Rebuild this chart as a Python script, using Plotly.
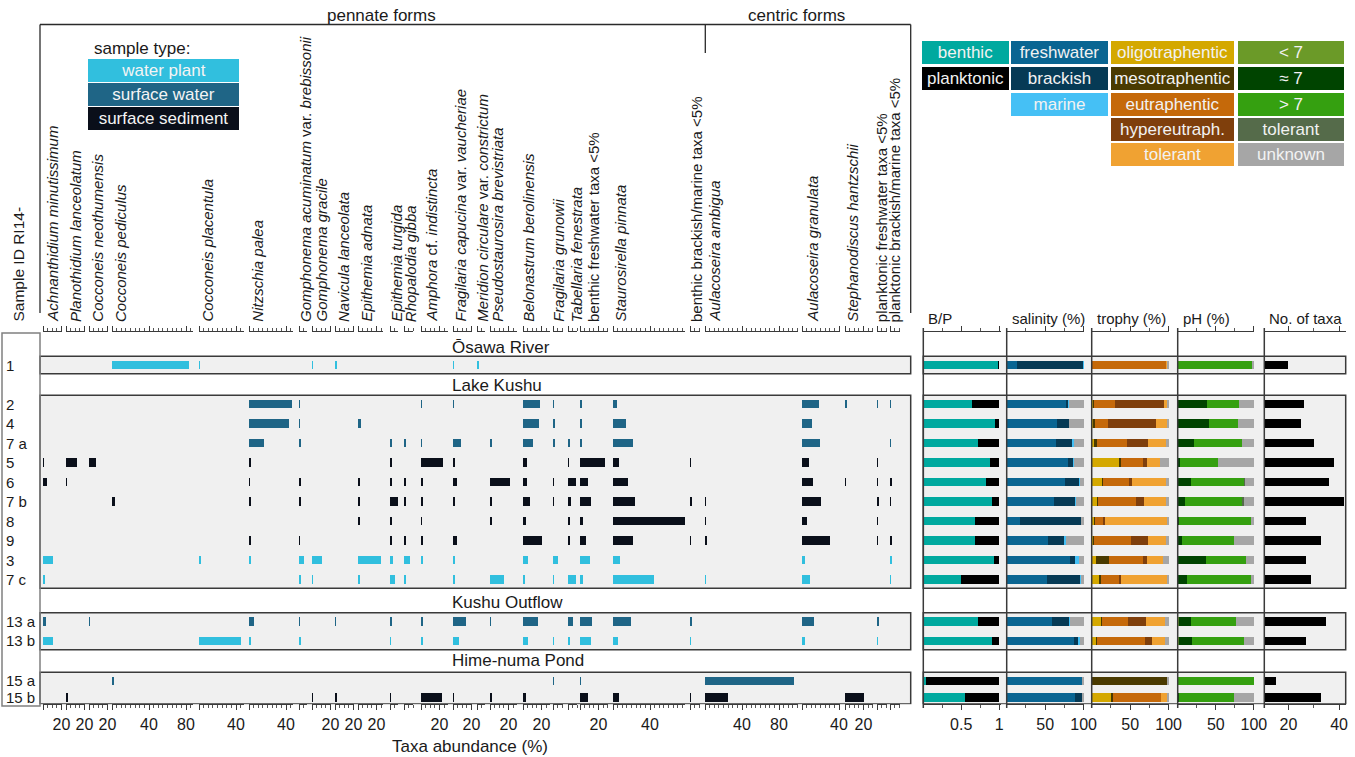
import plotly.graph_objects as go

W, H = 1355, 757
FONT = "Liberation Sans, Arial, sans-serif"

# ---------------- data ----------------
samples = ["1", "2", "4", "7 a", "5", "6", "7 b", "8", "9", "3", "7 c", "13 a", "13 b", "15 a", "15 b"]
sample_type = ["water plant", "surface water", "surface water", "surface water",
               "surface sediment", "surface sediment", "surface sediment", "surface sediment", "surface sediment",
               "water plant", "water plant", "surface water", "water plant", "surface water", "surface sediment"]
groups = ["Ōsawa River", "Lake Kushu", "Kushu Outflow", "Hime-numa Pond"]
group_first = ["1", "2", "13 a", "15 a"]
group_last = ["1", "7 c", "13 b", "15 b"]

taxa = [
    "<i>Achnanthidium minutissimum</i>",
    "<i>Planothidium lanceolatum</i>",
    "<i>Cocconeis neothumensis</i>",
    "<i>Cocconeis pediculus</i>",
    "<i>Cocconeis placentula</i>",
    "<i>Nitzschia palea</i>",
    "<i>Gomphonema acuminatum</i> var. <i>brebissonii</i>",
    "<i>Gomphonema gracile</i>",
    "<i>Navicula lanceolata</i>",
    "<i>Epithemia adnata</i>",
    "<i>Epithemia turgida</i>",
    "<i>Rhopalodia gibba</i>",
    "<i>Amphora</i> cf. <i>indistincta</i>",
    "<i>Fragilaria capucina</i> var. <i>vaucheriae</i>",
    "<i>Meridion circulare</i> var. <i>constrictum</i>",
    "<i>Pseudostaurosira brevistriata</i>",
    "<i>Belonastrum berolinensis</i>",
    "<i>Fragilaria grunowii</i>",
    "<i>Tabellaria fenestrata</i>",
    "benthic freshwater taxa &lt;5%",
    "<i>Staurosirella pinnata</i>",
    "benthic brackish/marine taxa &lt;5%",
    "<i>Aulacoseira ambigua</i>",
    "<i>Aulacoseira granulata</i>",
    "<i>Stephanodiscus hantzschii</i>",
    "planktonic freshwater taxa &lt;5%",
    "planktonic brackish/marine taxa &lt;5%",
]
# axis maximum (%) of each taxon column
taxa_axis_max = [20, 20, 20, 88, 49, 48, 9, 20, 20, 27, 9, 10, 29, 20, 9, 29, 29, 11, 10, 30, 78, 11, 101, 41, 30, 11, 11]
# labelled tick values of each taxon column
taxa_tick_labels = [[20], [20], [20], [40, 80], [40], [40], [], [20], [20], [20], [], [], [20], [20], [],
                    [20], [20], [], [], [20], [40, 80], [], [40, 80], [40], [20], [], []]

# abundances (%) per taxon, in sample order 1,2,4,7a,5,6,7b,8,9,3,7c,13a,13b,15a,15b
achnanthidium = [0, 0, 0, 0, 0.7, 4.7, 0, 0, 0, 11, 1.2, 3, 11, 0, 0]
planothidium = [0, 0, 0, 0, 11.5, 0.8, 0, 0, 0, 0, 0, 0, 0, 0, 1.2]
cocconeis_neo = [0, 0, 0, 0, 8, 0, 0, 0, 0, 0, 0, 0.8, 0, 0, 0]
cocconeis_ped = [83, 0, 0, 0, 0, 0, 3, 0, 0, 0, 0, 0, 0, 1.2, 0]
cocconeis_pla = [1, 0, 0, 0, 0, 0, 0, 0, 0, 2.3, 0, 0, 45, 0, 0]
nitzschia = [0, 46, 43.5, 16, 1.8, 1, 1.5, 0, 2.5, 1.5, 0, 5, 2.5, 0, 0]
gomph_acu = [0, 0.8, 0.8, 1.5, 0, 1.5, 1.5, 0, 1, 5, 1.3, 0.8, 1.5, 0, 0]
gomph_gra = [0.7, 0, 0, 0, 0, 0, 0, 0, 0, 11, 0.8, 0, 0, 0, 1]
navicula = [1.5, 0, 0, 0, 0, 0, 0, 0, 0, 0, 0, 0.8, 0, 0, 2]
epithemia_adn = [0, 0, 3, 0, 0, 2.5, 2.5, 1.5, 0, 25, 2, 0, 0, 0, 0]
epithemia_tur = [0, 0, 0, 2.5, 1.8, 2, 9, 2.2, 1.8, 2.8, 5.5, 1.8, 0.8, 0, 0.8]
rhopalodia = [0, 0, 0, 2, 0, 1.8, 2, 0, 1.5, 7, 2, 0, 0, 0, 0]
amphora = [0, 0.7, 0, 0.7, 24, 2.5, 1.8, 0.8, 1.8, 1.3, 0, 1.5, 1.3, 0, 22.5]
fragilaria_cap = [0.7, 1, 0, 8.5, 1.8, 4.3, 2, 0, 4.3, 2.5, 2, 14, 6, 0, 0.8]
meridion = [1.2, 0, 0, 0, 0, 0, 0, 0, 0, 0, 0, 0, 0, 0, 0]
pseudostaurosira = [0, 0, 0, 2, 0, 21.5, 2, 2, 0, 0, 15, 0.8, 0, 0, 2]
belonastrum = [0, 18.4, 17.5, 10.5, 4, 4, 8, 3, 20, 5, 1.5, 16.5, 5.7, 0, 3]
fragilaria_gru = [0, 1, 2, 2, 0, 0.8, 0.8, 0, 0, 5.5, 0.7, 0, 0.8, 0.8, 0]
tabellaria = [0, 0, 0, 1.5, 0.8, 8.5, 3.3, 1.3, 1.5, 0, 8.5, 5.5, 1.5, 0, 0]
benthic_fw_minor = [0, 2, 2, 2.5, 27, 8.7, 12, 2.8, 7, 10.5, 2.7, 12.5, 11.5, 0.8, 8.5]
staurosirella = [0, 4, 14, 21.5, 6.8, 16, 24, 78, 21.5, 7.6, 44, 19.5, 5, 0, 6.8]
benthic_bm_minor = [0, 0, 0, 0, 1, 0, 1.2, 0, 0.8, 0, 0, 1.2, 0.8, 0, 0.8]
aulacoseira_amb = [0, 0, 0, 0, 0, 0, 1, 0.8, 1.2, 0, 0.8, 0, 0, 96.5, 24.5]
aulacoseira_gra = [0, 18, 10.5, 19.5, 8, 12, 20, 5, 30.5, 3.5, 9, 12.5, 3.5, 0, 0]
stephanodiscus = [0, 2.5, 0, 0, 0, 0.8, 0, 0, 0, 0, 0, 0, 0, 0, 21]
plankt_fw_minor = [0, 0.8, 0, 0, 1, 0.8, 1.2, 0.8, 0.8, 0, 0, 1.2, 1, 0, 0]
plankt_bm_minor = [0, 0.8, 0, 0.8, 0, 1.2, 0.8, 0, 1.8, 1.2, 1, 0, 0, 0, 0]

abundance_columns = [achnanthidium, planothidium, cocconeis_neo, cocconeis_ped, cocconeis_pla, nitzschia,
                     gomph_acu, gomph_gra, navicula, epithemia_adn, epithemia_tur, rhopalodia, amphora,
                     fragilaria_cap, meridion, pseudostaurosira, belonastrum, fragilaria_gru, tabellaria,
                     benthic_fw_minor, staurosirella, benthic_bm_minor, aulacoseira_amb, aulacoseira_gra,
                     stephanodiscus, plankt_fw_minor, plankt_bm_minor]

# B/P ratio (benthic share)
benthic_share = [0.99, 0.64, 0.95, 0.72, 0.88, 0.82, 0.91, 0.68, 0.68, 0.93, 0.50, 0.72, 0.91, 0.03, 0.55]
planktonic_share = [round(1 - b, 2) for b in benthic_share]

# salinity (%)
sal_freshwater = [13, 76.7, 66, 64, 80, 76, 62, 17, 54, 82, 53, 59.5, 87.5, 98, 89]
sal_brackish = [86, 3, 15, 21.5, 7, 18.5, 26.7, 79, 21, 7, 43, 22, 4.7, 0, 9.5]
sal_marine = [1, 1.3, 0, 2, 0.5, 1, 1.3, 0, 2.6, 5.6, 1, 1, 2.6, 0, 0]
sal_unknown = [0, 19, 19, 12.5, 12.5, 4.5, 10, 4, 22.4, 5.4, 3, 17.5, 5.2, 2, 1.5]

# trophy (%)
tro_oligo = [0, 1.3, 1.3, 2.6, 35.3, 13.4, 6.9, 3, 2.2, 5.6, 9.5, 12, 5.6, 0, 24.6]
tro_meso = [0, 1.7, 3, 3.9, 3.4, 1.3, 1.3, 1.3, 1.3, 16.8, 2.2, 1.3, 0.9, 98.7, 3]
tro_eu = [96, 26.7, 17.2, 38.8, 28.4, 33.6, 50, 10.8, 47.4, 44.8, 24.6, 34.5, 63.4, 0, 62]
tro_hyper = [0, 63.8, 61.6, 27.6, 5.2, 3.9, 9.9, 2.2, 22.4, 5.2, 1.7, 22.4, 8.2, 0, 0]
tro_tolerant = [2.6, 5.2, 15.5, 23.2, 16, 43.9, 28, 81.4, 22.8, 20.3, 60, 24.6, 16.7, 0, 8.2]
tro_unknown = [1.4, 1.3, 1.4, 3.9, 11.7, 3.9, 3.9, 1.3, 3.9, 7.3, 2, 5.2, 5.2, 1.3, 2.2]

# pH (%)
ph_lt7 = [0, 0, 0, 0, 0, 0, 0, 0, 0, 0, 0, 2.2, 1.7, 0, 0]
ph_eq7 = [0, 38.7, 40.9, 21.3, 3, 17.4, 9.6, 1.7, 6.1, 37, 12.2, 15.2, 17, 0, 1.3]
ph_gt7 = [97.8, 41.3, 37.8, 63, 49.6, 69.6, 74.8, 94.3, 67.8, 52.2, 83.5, 58.7, 67.8, 100, 72.2]
ph_tolerant = [0, 0, 0, 0, 0, 1.7, 2.2, 0, 0, 0, 0, 0, 0, 0, 0]
ph_unknown = [2.2, 20, 21.3, 15.7, 47.4, 11.3, 13.4, 4, 26.1, 10.8, 4.3, 23.9, 13.5, 0, 26.5]

n_taxa = [20, 26, 25, 30, 38, 36, 42, 27, 33, 27, 29, 35, 27, 15, 33]

# ---------------- styles / layout ----------------
type_color = {"water plant": "#31BFDE", "surface water": "#1F6586", "surface sediment": "#0A0F1A"}
C = dict(benthic="#00A99F", planktonic="#000000",
         freshwater="#0A6592", brackish="#063A55", marine="#45C0F5",
         oligo="#D4A800", meso="#4A3A00", eu="#C5690A", hyper="#7F3F0C", ttol="#F0A232",
         lt7="#6B9A28", eq7="#004400", gt7="#35A010", ptol="#556B4A", unknown="#A6A6A6")
AXC = "#3a3a3a"

# vertical row positions (in row units) and y-pixel mapping
row_y = [0, 2, 3, 4, 5, 6, 7, 8, 9, 10, 11, 13.15, 14.15, 16.2, 17.05]
ROW_PX, ROW0_PX = 19.5, 365
Y_TOP, Y_BOT = -1.7, 17.4
ydom = [1 - (ROW0_PX + Y_BOT * ROW_PX) / H, 1 - (ROW0_PX + Y_TOP * ROW_PX) / H]
BAR_W = 0.42

# taxon columns: left edge (px) and px per %
col_left_px = [43, 66, 89, 112, 199, 249, 299, 312, 335, 358, 390, 404, 421, 453, 477, 490, 523, 553, 568,
               580, 613, 690, 705, 802, 845, 877, 890]
PX_PER_PCT = 0.925
label_x_px = [51.7, 75, 96.7, 120, 207, 256.7, 305, 321, 343, 366, 396, 410.7, 431, 460, 481.7, 496.7, 528.3,
              558.3, 576.7, 593, 620, 696, 714, 811.7, 851.7, 881.7, 894]

fig = go.Figure()
layout = dict(width=W, height=H, margin=dict(l=0, r=0, t=0, b=0, autoexpand=False),
              paper_bgcolor="white", plot_bgcolor="rgba(0,0,0,0)", barmode="stack",
              showlegend=False, font=dict(family=FONT, size=15, color="#1a1a1a"),
              yaxis=dict(domain=ydom, range=[Y_BOT, Y_TOP], visible=False, fixedrange=True))


def axis_style(domain, rng, tickvals, ticktext, minor_dtick, tick0=0):
    return dict(domain=domain, range=rng, anchor="y", showline=True, linecolor=AXC, linewidth=1,
                mirror="ticks", ticks="outside", ticklen=5, tickwidth=1, tickcolor=AXC,
                tickmode="array", tickvals=tickvals, ticktext=ticktext,
                tickfont=dict(size=16, family=FONT, color="#1a1a1a"),
                showgrid=False, zeroline=False, fixedrange=True,
                minor=dict(dtick=minor_dtick, tick0=tick0, ticks="outside", ticklen=3,
                           tickcolor="#555", showgrid=False))


bar_colors = [type_color[t] for t in sample_type]
for i, vals in enumerate(abundance_columns):
    n = i + 1
    xa = "x" if n == 1 else f"x{n}"
    fig.add_trace(go.Bar(x=vals, y=row_y, orientation="h", width=BAR_W, xaxis=xa, yaxis="y",
                         marker=dict(color=bar_colors, line=dict(width=0)), hoverinfo="x+y"))
    x0 = col_left_px[i]
    x1 = x0 + taxa_axis_max[i] * PX_PER_PCT
    tv = [0] + taxa_tick_labels[i]
    tt = [""] + [str(v) for v in taxa_tick_labels[i]]
    layout["xaxis" if n == 1 else f"xaxis{n}"] = axis_style([x0 / W, x1 / W], [0, taxa_axis_max[i]], tv, tt, 5)

# right-hand panels
nt = len(abundance_columns)
panels = [
    dict(title="B/P", dom=(923.3, 1000.7), rng=[0, 1.02], tv=[0.5, 1], tt=["0.5", "1"], minor=0.25, tick0=0,
         series=[(benthic_share, C["benthic"]), (planktonic_share, C["planktonic"])]),
    dict(title="salinity (%)", dom=(1006.7, 1084), rng=[0, 100.5], tv=[50, 100], tt=["50", "100"], minor=25, tick0=0,
         series=[(sal_freshwater, C["freshwater"]), (sal_brackish, C["brackish"]),
                 (sal_marine, C["marine"]), (sal_unknown, C["unknown"])]),
    dict(title="trophy (%)", dom=(1091.7, 1169), rng=[0, 100.5], tv=[50, 100], tt=["50", "100"], minor=25, tick0=0,
         series=[(tro_oligo, C["oligo"]), (tro_meso, C["meso"]), (tro_eu, C["eu"]), (tro_hyper, C["hyper"]),
                 (tro_tolerant, C["ttol"]), (tro_unknown, C["unknown"])]),
    dict(title="pH (%)", dom=(1177.7, 1254.3), rng=[0, 100.5], tv=[50, 100], tt=["50", "100"], minor=25, tick0=0,
         series=[(ph_lt7, C["lt7"]), (ph_eq7, C["eq7"]), (ph_gt7, C["gt7"]),
                 (ph_tolerant, C["ptol"]), (ph_unknown, C["unknown"])]),
    dict(title="No. of taxa", dom=(1264.3, 1345.7), rng=[10.5, 42.6], tv=[20, 40], tt=["20", "40"], minor=10, tick0=0,
         series=[(n_taxa, "#000000")]),
]
shapes = []
annotations = []
for k, p in enumerate(panels):
    n = nt + k + 1
    xa = f"x{n}"
    for vals, col in p["series"]:
        fig.add_trace(go.Bar(x=vals, y=row_y, orientation="h", width=BAR_W, xaxis=xa, yaxis="y",
                             marker=dict(color=col, line=dict(width=0)), hoverinfo="x+y"))
    layout[f"xaxis{n}"] = axis_style([p["dom"][0] / W, p["dom"][1] / W], p["rng"], p["tv"], p["tt"],
                                     p["minor"], p["tick0"])
    shapes.append(dict(type="line", xref=f"{xa} domain", x0=0, x1=0, yref="paper",
                       y0=1 - 708 / H, y1=1 - 328 / H, line=dict(color=AXC, width=1.5), layer="above"))
    annotations.append(dict(text=p["title"], x=(p["dom"][0] + 3) / W, y=1 - 318 / H, xref="paper", yref="paper",
                            xanchor="left", yanchor="middle", showarrow=False, font=dict(size=15)))

# grey group panels
for gf, gl in zip(group_first, group_last):
    y0 = row_y[samples.index(gf)] - 0.45
    y1 = min(row_y[samples.index(gl)] + 0.45, Y_BOT - 0.02)
    for (xl, xr) in [(40, 910.7), (923.3, 1345.7)]:
        shapes.append(dict(type="rect", xref="paper", yref="y", x0=xl / W, x1=xr / W, y0=y0, y1=y1,
                           fillcolor="#F0F0F0", line=dict(color="#3a3a3a", width=1.5), layer="below"))

# group titles
group_label_y = [-0.9, 1.05, 12.2, 15.15]
for g, gy in zip(groups, group_label_y):
    annotations.append(dict(text=g, x=450 / W, y=gy, xref="paper", yref="y", xanchor="left", yanchor="middle",
                            showarrow=False, font=dict(size=17)))

# sample ID labels
for s, yv in zip(samples, row_y):
    annotations.append(dict(text=s, x=4 / W, y=yv, xref="paper", yref="y", xanchor="left", yanchor="middle",
                            showarrow=False, font=dict(size=15)))

# sample ID frame
shapes.append(dict(type="rect", xref="paper", yref="paper", x0=2 / W, x1=40 / W, y0=1 - 706 / H, y1=1 - 333 / H,
                   line=dict(color="#808080", width=1.5), fillcolor="rgba(0,0,0,0)", layer="above"))
annotations.append(dict(text="Sample ID RI14-", x=18 / W, y=1 - 324 / H, xref="paper", yref="paper",
                        xanchor="center", yanchor="bottom", textangle=-90, showarrow=False, font=dict(size=15.5)))

# taxa labels
for name, lx in zip(taxa, label_x_px):
    annotations.append(dict(text=name, x=lx / W, y=1 - 324 / H, xref="paper", yref="paper",
                            xanchor="center", yanchor="bottom", textangle=-90, showarrow=False,
                            font=dict(size=15)))

# pennate / centric bracket
bracket = [(40, 24.5, 910.7, 24.5), (40, 24.5, 40, 313), (910.7, 24.5, 910.7, 313), (705.3, 24.5, 705.3, 53)]
for (xa0, ya0, xa1, ya1) in bracket:
    shapes.append(dict(type="line", xref="paper", yref="paper", x0=xa0 / W, x1=xa1 / W,
                       y0=1 - ya0 / H, y1=1 - ya1 / H, line=dict(color="#2a2a2a", width=1.3)))
annotations.append(dict(text="pennate forms", x=381 / W, y=1 - 15 / H, xref="paper", yref="paper",
                        xanchor="center", yanchor="middle", showarrow=False, font=dict(size=17)))
annotations.append(dict(text="centric forms", x=796 / W, y=1 - 15 / H, xref="paper", yref="paper",
                        xanchor="center", yanchor="middle", showarrow=False, font=dict(size=17)))

annotations.append(dict(text="Taxa abundance (%)", x=470 / W, y=1 - 746 / H, xref="paper", yref="paper",
                        xanchor="center", yanchor="middle", showarrow=False, font=dict(size=17)))

# sample type legend
annotations.append(dict(text="sample type:", x=92 / W, y=1 - 48 / H, xref="paper", yref="paper",
                        xanchor="left", yanchor="middle", showarrow=False, font=dict(size=17)))
for j, t in enumerate(["water plant", "surface water", "surface sediment"]):
    annotations.append(dict(text=t, x=163.5 / W, y=1 - (70.5 + 24 * j) / H, xref="paper", yref="paper",
                            xanchor="center", yanchor="middle", showarrow=False, width=151, height=23,
                            bgcolor=type_color[t], borderpad=0, borderwidth=0,
                            font=dict(size=17, color="#F4F4F4")))

# category legends (right)
legend_cols = [
    (965.5, 87, [("benthic", C["benthic"]), ("planktonic", C["planktonic"])]),
    (1059.5, 97, [("freshwater", C["freshwater"]), ("brackish", C["brackish"]), ("marine", C["marine"])]),
    (1172.5, 123, [("oligotraphentic", C["oligo"]), ("mesotraphentic", C["meso"]), ("eutraphentic", C["eu"]),
                   ("hypereutraph.", C["hyper"]), ("tolerant", C["ttol"])]),
    (1291, 106, [("&lt; 7", C["lt7"]), ("≈ 7", C["eq7"]), ("&gt; 7", C["gt7"]),
                 ("tolerant", C["ptol"]), ("unknown", C["unknown"])]),
]
legend_row_y = [52.7, 78.8, 104.3, 129.3, 155]
for cx, w, items in legend_cols:
    for j, (lab, col) in enumerate(items):
        annotations.append(dict(text=lab, x=cx / W, y=1 - legend_row_y[j] / H, xref="paper", yref="paper",
                                xanchor="center", yanchor="middle", showarrow=False, width=w, height=23,
                                bgcolor=col, borderpad=0, borderwidth=0,
                                font=dict(size=17, color="#F2F2F2")))

layout["shapes"] = shapes
layout["annotations"] = annotations
fig.update_layout(**layout)
fig.write_html("out.html", config={"displayModeBar": False},
               post_script="document.body.style.margin='0px';document.body.style.overflow='hidden';")
